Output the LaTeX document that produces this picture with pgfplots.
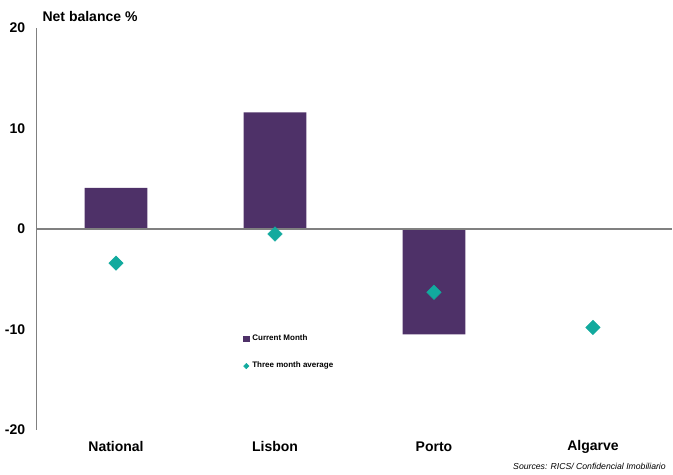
\documentclass[border=0pt]{standalone}
\usepackage{pgfplots}
\pgfplotsset{compat=1.18}
\usepackage{fontspec}
\setmainfont{Liberation Sans}
\definecolor{barpurple}{RGB}{78,49,104}
\definecolor{teal}{RGB}{18,170,158}
\begin{document}
\begin{tikzpicture}[x=1pt,y=1pt]
\path[use as bounding box] (-27.4pt,-33.75pt) rectangle (477.4pt,322.5pt);
\begin{axis}[
  at={(0,0)}, anchor=south west,
  scale only axis, width=477pt, height=301.5pt,
  xmin=-0.5, xmax=3.5, ymin=-20, ymax=20,
  axis x line=none,
  axis y line*=left,
  y axis line style={gray, line width=0.8pt, -},
  ytick={-20,-10,0,10,20},
  major tick length=0pt,
  yticklabel style={font=\bfseries\fontsize{10.5}{12}\selectfont, xshift=-5pt},
  /pgf/number format/assume math mode=true,
  xtick=\empty,
  clip=false,
  legend style={at={(0.318,0.25)}, anchor=north west, draw=none, fill=none,
     font=\bfseries\fontsize{6}{7}\selectfont, row sep=10.5pt,
     legend cell align=left},
  legend image code/.code={},
]
\addplot[draw=none, fill=barpurple, ybar, bar width=47pt, bar shift=0pt,
  legend image code/.code={\fill[barpurple] (0cm,-2.5pt) rectangle (5pt,2.5pt);}]
  coordinates {(0,4.1) (1,11.6) (2,-10.5)};
\addlegendentry{Current Month}
\addplot[only marks, mark=square*, mark size=3.8pt, color=teal, mark options={rotate=45, draw=teal, fill=teal},
  legend image code/.code={\fill[teal] (2.5pt,-2pt) -- (4.5pt,0pt) -- (2.5pt,2pt) -- (0.5pt,0pt) -- cycle;}]
  coordinates {(0,-3.4) (1,-0.5) (2,-6.3) (3,-9.8)};
\addlegendentry{Three month average}
\draw[gray, line width=0.8pt] (rel axis cs:0,0.5) -- (rel axis cs:1,0.5);
\node[font=\bfseries\fontsize{10.5}{12}\selectfont] at (axis cs:0,-20) [yshift=-12.5pt] {National};
\node[font=\bfseries\fontsize{10.5}{12}\selectfont] at (axis cs:1,-20) [yshift=-12.5pt] {Lisbon};
\node[font=\bfseries\fontsize{10.5}{12}\selectfont] at (axis cs:2,-20) [yshift=-12.5pt] {Porto};
\node[font=\bfseries\fontsize{10.5}{12}\selectfont] at (axis cs:3,-20) [yshift=-12.5pt] {Algarve};
\node[font=\bfseries\fontsize{10.5}{12}\selectfont, anchor=west] at (rel axis cs:0,1) [yshift=8.5pt, xshift=1pt] {Net balance \%};
\node[font=\itshape\fontsize{6.5}{8}\selectfont, anchor=east] at (rel axis cs:1,0) [yshift=-27pt, xshift=-1.5pt] {Sources: RICS/ Confidencial Imobiliario};
\end{axis}
\end{tikzpicture}
\end{document}
